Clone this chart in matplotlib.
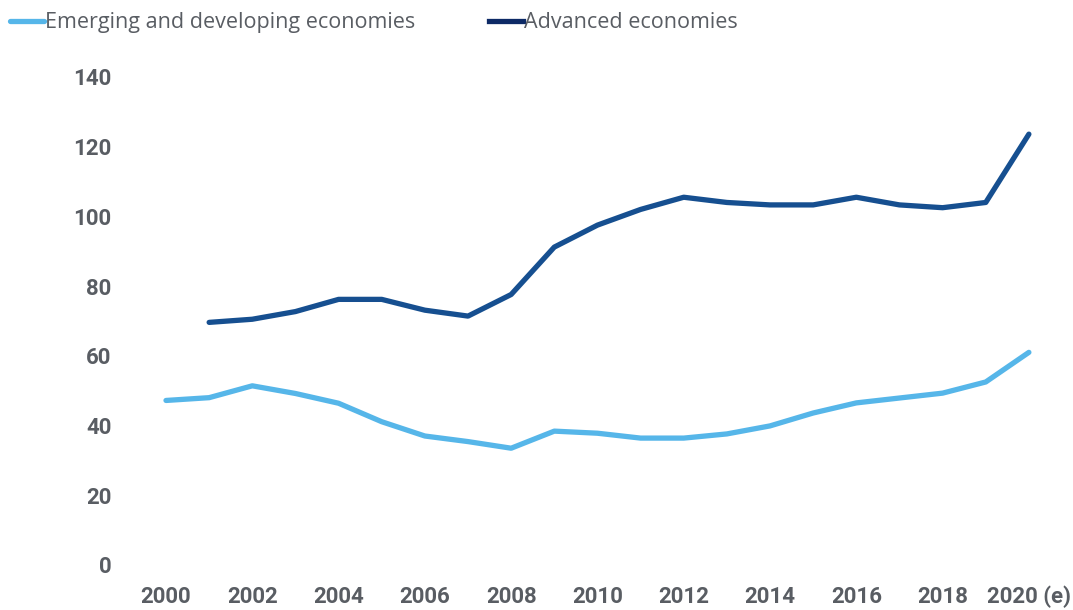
import matplotlib
matplotlib.use("Agg")
import matplotlib.pyplot as plt

years = list(range(2000, 2021))
emerging = [47.2, 48.0, 51.4, 49.2, 46.4, 41.1, 37.0, 35.4, 33.5, 38.4, 37.8,
            36.4, 36.4, 37.6, 39.9, 43.6, 46.5, 47.9, 49.3, 52.5, 61.0]
adv_years = list(range(2001, 2021))
advanced = [69.6, 70.5, 72.7, 76.2, 76.2, 73.1, 71.4, 77.6, 91.2, 97.5,
            102.0, 105.5, 104.0, 103.3, 103.3, 105.5, 103.3, 102.5, 104.0, 123.6]
xticks = list(range(2000, 2021, 2))
xlabels = ["2000", "2002", "2004", "2006", "2008", "2010", "2012", "2014",
           "2016", "2018", "2020 (e)"]

grey = "#595d63"

fig = plt.figure(figsize=(10.73, 6.10), dpi=100)
ax = fig.add_axes([0.1145, 0.0738, 0.8846, 0.8])

ax.plot(years, emerging, color="#56b6e9", lw=3.8, solid_capstyle="round",
        label="Emerging and developing economies")
ax.plot(adv_years, advanced, color="#164f90", lw=3.8, solid_capstyle="round",
        label="Advanced economies")

ax.set_xlim(1999, 2021)
ax.set_ylim(0, 140)
ax.set_yticks(range(0, 141, 20))
ax.set_xticks(xticks)
ax.set_xticklabels(xlabels)
for s in ax.spines.values():
    s.set_visible(False)
ax.tick_params(length=0, colors=grey, labelsize=16)
ax.tick_params(axis="x", pad=15)
ax.tick_params(axis="y", pad=8)
for lab in ax.get_xticklabels() + ax.get_yticklabels():
    lab.set_fontweight("bold")
    lab.set_family("Roboto")
    lab.set_fontstretch("condensed")

handles, labels = ax.get_legend_handles_labels()
handles[1] = plt.Line2D([], [], color="#0d2a66", lw=3.8)
leg = fig.legend(handles, labels, loc="upper left", bbox_to_anchor=(-0.009, 1.012),
                 ncol=2, frameon=False, handlelength=1.6, handletextpad=0.05,
                 columnspacing=3.4, prop={"family": "Open Sans", "size": 15.5})
for t in leg.get_texts():
    t.set_color(grey)

fig.savefig("out.png", dpi=100)
